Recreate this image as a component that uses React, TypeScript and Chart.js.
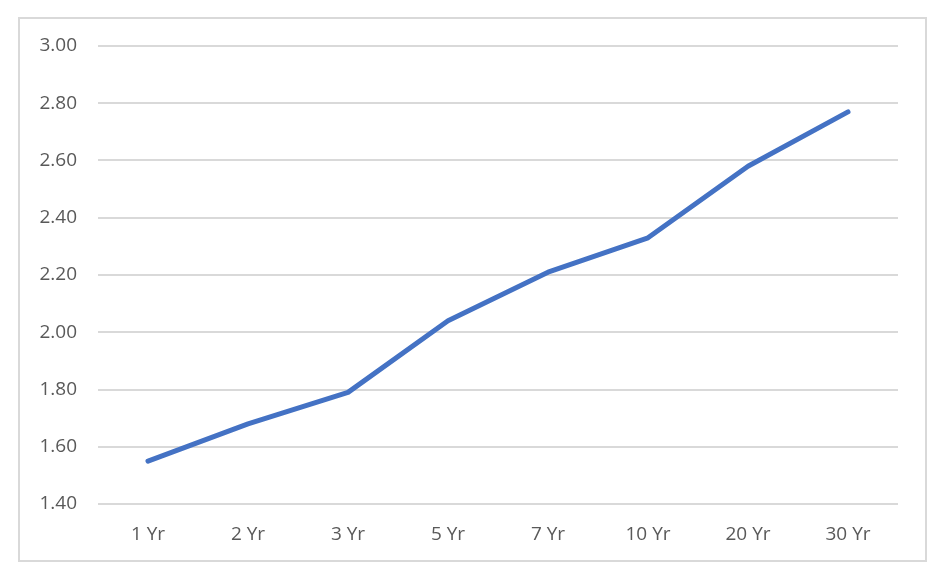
import React, { useEffect, useRef } from "react";
import { Chart, registerables } from "chart.js";

Chart.register(...registerables);

const categories = ["1 Yr", "2 Yr", "3 Yr", "5 Yr", "7 Yr", "10 Yr", "20 Yr", "30 Yr"];
const yields = [1.55, 1.68, 1.79, 2.04, 2.21, 2.33, 2.58, 2.77];
const yMin = 1.4;
const yMax = 3.0;
const yStep = 0.2;

export default function App() {
  const ref = useRef<HTMLCanvasElement | null>(null);

  useEffect(() => {
    if (!ref.current) return;
    const chart = new Chart(ref.current, {
      type: "line",
      data: {
        labels: categories,
        datasets: [
          {
            data: yields,
            borderColor: "#4472C4",
            borderWidth: 5,
            borderCapStyle: "round",
            borderJoinStyle: "round",
            pointRadius: 0,
            tension: 0,
            fill: false,
          },
        ],
      },
      options: {
        animation: false,
        responsive: false,
        maintainAspectRatio: false,
        layout: { padding: { left: 0, top: 46, right: 50, bottom: 0 } },
        plugins: { legend: { display: false }, tooltip: { enabled: false } },
        scales: {
          x: {
            offset: true,
            grid: { display: false, drawTicks: false },
            border: { display: false },
            ticks: {
              color: "#595959",
              font: { family: "Open Sans", size: 19 },
              padding: 19,
              maxRotation: 0,
            },
            afterFit: (s: any) => {
              s.height = 76;
            },
          },
          y: {
            min: yMin,
            max: yMax,
            grid: { color: "#d9d9d9", lineWidth: 2, drawTicks: false },
            border: { display: false },
            ticks: {
              stepSize: yStep,
              color: "#595959",
              font: { family: "Open Sans", size: 19 },
              padding: 21,
              callback: (v: any) => Number(v).toFixed(2),
            },
            afterFit: (s: any) => {
              s.width = 98;
            },
          },
        },
      },
    });
    return () => chart.destroy();
  }, []);

  return (
    <div style={{ position: "absolute", left: 0, top: 0, width: 948, height: 580, background: "#fff" }}>
      <div
        style={{
          position: "absolute",
          left: 18,
          top: 17,
          width: 909,
          height: 545,
          boxSizing: "border-box",
          border: "2px solid #d9d9d9",
        }}
      />
      <canvas ref={ref} width={948} height={580} style={{ position: "absolute", left: 0, top: 0 }} />
    </div>
  );
}
